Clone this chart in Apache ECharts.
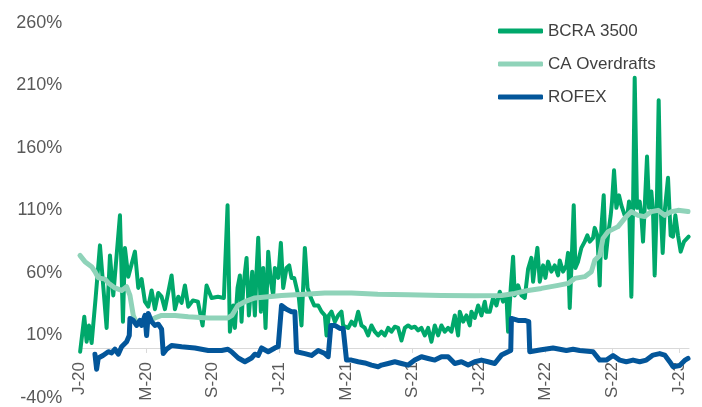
<!DOCTYPE html>
<html><head><meta charset="utf-8">
<script src="https://cdn.jsdelivr.net/npm/echarts@6/dist/echarts.min.js"></script>
<style>html,body{margin:0;padding:0;background:#fff}#c{width:702px;height:407px}</style>
</head><body><div id="c"></div>
<script>
// x values are months since Jan 2020
const tickLabels = ['J-20','M-20','S-20','J-21','M-21','S-21','J-22','M-22','S-22','J-23'];
const seriesNames = ['BCRA 3500','CA Overdrafts','ROFEX'];

const bcraMonths = [0.05,0.30,0.44,0.58,0.74,0.98,1.24,1.64,1.84,2.04,2.44,2.62,2.74,2.94,3.34,3.54,3.74,3.94,4.14,4.34,4.54,4.74,4.94,5.14,5.54,5.74,5.94,6.14,6.34,6.54,6.82,7.12,7.40,7.64,7.94,8.32,8.68,8.90,9.04,9.24,9.34,9.50,9.64,9.74,9.84,10.04,10.18,10.38,10.54,10.64,10.74,10.90,11.04,11.18,11.34,11.50,11.64,11.74,11.94,12.10,12.24,12.44,12.60,12.74,12.90,13.04,13.18,13.34,13.54,13.70,13.90,14.10,14.34,14.54,14.74,14.84,14.98,15.14,15.34,15.54,15.74,15.84,16.14,16.34,16.54,16.74,16.94,17.14,17.34,17.54,17.74,17.94,18.14,18.34,18.54,18.74,18.94,19.14,19.34,19.54,19.74,19.94,20.14,20.34,20.54,20.74,20.94,21.14,21.34,21.54,21.74,21.94,22.14,22.34,22.54,22.74,22.84,23.04,23.24,23.44,23.54,23.74,23.94,24.14,24.34,24.44,24.64,24.84,25.04,25.24,25.44,25.64,25.74,25.90,26.04,26.14,26.34,26.54,26.74,26.94,27.14,27.24,27.34,27.50,27.64,27.84,27.98,28.14,28.34,28.54,28.74,28.84,29.04,29.24,29.34,29.44,29.54,29.68,29.78,29.94,30.14,30.34,30.50,30.64,30.84,30.94,31.10,31.24,31.34,31.48,31.60,31.74,31.90,31.98,32.10,32.24,32.40,32.54,32.74,32.90,33.00,33.14,33.24,33.34,33.48,33.64,33.74,33.84,33.94,34.08,34.20,34.34,34.44,34.54,34.68,34.78,34.90,35.02,35.14,35.34,35.50,35.64,35.78,35.94,36.10,36.30,36.58];
const bcraValues = [-3,25,5,18,4,40,82,16,74,42,106,21,80,57,77,48,55,37,33,46,31,44,41,31,58,31,41,36,50,33,38,37,18,50,40,41,40,114,13,34,16,48,58,21,48,72,26,61,26,61,88,29,64,16,77,53,42,64,56,84,48,64,66,56,56,48,40,18,80,48,40,34,34,29,26,10,26,29,21,26,29,18,16,21,18,29,18,16,10,18,13,10,13,10,16,13,17,16,6,16,18,16,17,14,16,10,16,5,18,10,18,13,16,13,26,10,29,21,26,18,29,24,34,26,37,29,29,40,34,45,37,42,13,48,73,42,50,42,40,63,72,53,64,80,53,66,56,69,61,66,58,70,61,66,76,32,64,114,64,69,80,85,90,85,88,96,90,50,96,122,72,90,106,117,142,112,122,114,106,106,117,41,112,216,112,117,106,85,112,153,112,125,109,58,122,198,112,76,109,136,90,89,106,90,77,85,89];

const caMonths = [0.04,0.34,0.74,0.94,1.14,1.54,1.74,2.14,2.54,2.84,3.04,3.24,3.44,3.74,4.04,4.54,4.94,5.74,6.54,7.74,8.92,9.16,9.52,9.94,10.54,11.34,12.14,13.54,14.74,16.34,17.92,19.74,21.74,23.74,25.34,26.14,26.94,27.74,28.74,29.34,29.74,30.34,30.74,30.94,31.24,31.44,31.74,32.34,32.74,33.14,33.54,33.94,34.34,34.74,35.14,35.54,35.94,36.54];
const caValues = [74,69,65,61,56,55,52,48,46,49,42,26,20,19,21,24,26,26,25,24,24,26,34,37,40,41,42,43,44,44,43,42.5,42,41.7,42,43.6,46,47.6,50,51.6,55.6,57,61,70,74,87.6,93,97,103.6,109,106,105,109,110,106,109,110,109];

const rofexMonths = [0.94,1.04,1.14,1.42,1.74,1.94,2.14,2.34,2.54,2.84,3.00,3.04,3.24,3.44,3.64,3.74,3.94,4.04,4.14,4.34,4.54,4.74,4.94,5.04,5.24,5.54,6.14,6.94,7.74,8.54,8.92,9.14,9.54,9.94,10.34,10.54,10.74,10.94,11.34,11.74,11.94,12.14,12.44,12.74,12.94,13.04,13.54,13.94,14.34,14.74,14.94,15.10,15.34,15.64,15.84,16.04,16.34,16.74,17.14,17.54,17.94,18.14,18.54,18.94,19.34,19.74,20.14,20.54,20.94,21.34,21.74,22.14,22.54,22.94,23.34,23.74,24.14,24.54,24.94,25.34,25.74,25.90,25.94,26.34,26.74,26.98,27.04,27.64,28.44,29.24,29.64,30.04,30.84,31.24,31.64,32.04,32.44,32.84,33.24,33.64,34.04,34.44,34.84,35.14,35.44,35.64,36.04,36.34,36.54];
const rofexValues = [-5,-17,-8,-6,-3,-4,-1,-5,1,5,10,23.6,22,18,22,18,26,10,27.6,21,18,19,15,-4.4,-1,2,1,0,-2,-2,-1,-3,-8,-11,-8,-5,-6,0,-3,0,1,34,31,29,29,-3,-4.5,-6,-2,-4.5,-7,18,18,15.6,15.6,-9.7,-9.7,-11,-12,-13.7,-15,-13.7,-12.4,-11,-12.4,-13.7,-9.7,-7,-8.4,-9.7,-7,-7,-12.4,-11,-13.7,-11,-9.7,-11,-12.4,-5.7,-3,-2,23.6,22,22,21,-3,-1.7,0,-2,-1,-2,-3,-9.7,-9.7,-6,-9.7,-11,-9.7,-11,-9.7,-5.7,-4.5,-5.7,-11,-15,-14,-10,-8.4];

const zip = (a, b) => a.map((x, i) => [x, b[i]]);
const FONT = '"Liberation Sans", Arial, sans-serif';

const chart = echarts.init(document.getElementById('c'), null, {renderer: 'canvas'});
chart.setOption({
  animation: false,
  backgroundColor: '#fff',
  grid: {left: 79.3, right: 13, top: 22.7, bottom: 9, containLabel: false, outerBoundsMode: 'none'},
  legend: {
    orient: 'vertical', left: 498, top: 22, padding: 0,
    itemWidth: 45, itemHeight: 5, itemGap: 15, itemTextGap: 4,
    icon: 'roundRect',
    data: seriesNames,
    textStyle: {fontFamily: FONT, fontSize: 17, color: '#404040', lineHeight: 18}
  },
  xAxis: {
    type: 'value', min: 0, max: 36.6, interval: 4,
    axisLine: {onZero: true, lineStyle: {color: '#d9d9d9', width: 1}},
    axisTick: {show: true, length: 5, lineStyle: {color: '#d9d9d9'}},
    splitLine: {show: false},
    axisLabel: {
      rotate: 90, margin: -36, fontFamily: FONT, fontSize: 17, color: '#595959',
      showMaxLabel: false,
      formatter: v => { const i = Math.round(v / 4); return (Math.abs(v - i * 4) < 1e-6 && tickLabels[i]) ? tickLabels[i] : ''; }
    }
  },
  yAxis: {
    type: 'value', min: -40, max: 260, interval: 50,
    axisLine: {show: false}, axisTick: {show: false}, splitLine: {show: false},
    axisLabel: {margin: 17, fontFamily: FONT, fontSize: 18, color: '#595959', formatter: '{value}%'}
  },
  series: [
    {name: seriesNames[0], type: 'line', data: zip(bcraMonths, bcraValues), symbol: 'none',
     color: '#00a86b', lineStyle: {width: 4, color: '#00a86b', join: 'round', cap: 'round'}},
    {name: seriesNames[1], type: 'line', data: zip(caMonths, caValues), symbol: 'none',
     color: '#8fd3b9', lineStyle: {width: 5, color: '#8fd3b9', join: 'round', cap: 'round'}},
    {name: seriesNames[2], type: 'line', data: zip(rofexMonths, rofexValues), symbol: 'none',
     color: '#03569a', lineStyle: {width: 5, color: '#03569a', join: 'round', cap: 'round'}}
  ]
});
</script></body></html>
